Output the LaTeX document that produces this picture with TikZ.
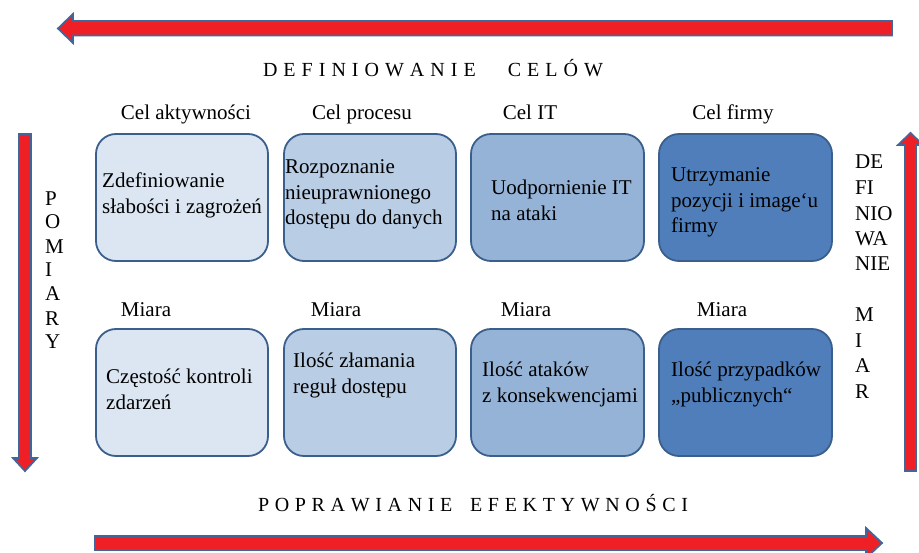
\documentclass[tikz,border=0pt]{standalone}
\usepackage{fontspec}
\setmainfont{Liberation Serif}
\definecolor{fillA}{HTML}{DCE6F2}
\definecolor{fillB}{HTML}{B9CDE5}
\definecolor{fillC}{HTML}{95B3D7}
\definecolor{fillD}{HTML}{4F7EBA}
\definecolor{boxedge}{HTML}{3A5F8C}
\definecolor{arrowred}{HTML}{EE2026}
\definecolor{arrowedge}{HTML}{41669B}
\begin{document}
\begin{tikzpicture}[x=1pt,y=-1pt,
  box/.style={draw=boxedge, line width=1.8pt, rounded corners=20pt,
              minimum width=172pt, minimum height=127pt, inner sep=0pt},
  % multi-line texts are placed by the baseline of their last line
  txt/.style={font=\fontsize{21}{25.5}\selectfont, align=left, inner sep=0pt, anchor=base west},
  lbl/.style={font=\fontsize{21}{25.5}\selectfont, inner sep=0pt, anchor=base},
  heading/.style={font=\fontsize{20}{24}\selectfont, inner sep=0pt, anchor=base},
  bigarrow/.style={draw=arrowedge, fill=arrowred, line width=1.8pt, line join=miter}
]
\useasboundingbox (0,0) rectangle (919,553);

% big arrows around the matrix
\draw[bigarrow] (58,28.5) -- (73,14) -- (73,21) -- (892,21) -- (892,35.5)
  -- (73,35.5) -- (73,43) -- cycle;
\draw[bigarrow] (19,134) -- (31,134) -- (31,458) -- (37,458) -- (25,471)
  -- (13,458) -- (19,458) -- cycle;
\draw[bigarrow] (905,471) -- (905,145) -- (898,145) -- (910.5,133) -- (923,145)
  -- (916,145) -- (916,471) -- cycle;
\draw[bigarrow] (95,536) -- (866,536) -- (866,528) -- (882,543) -- (866,558)
  -- (866,550) -- (95,550) -- cycle;

% headings
\node[heading] (goals) at (433,77) {\makebox[340pt][s]{D\hfill E\hfill F\hfill I\hfill N\hfill I\hfill O\hfill W\hfill A\hfill N\hfill I\hfill E\hspace{26pt}\hfill C\hfill E\hfill L\hfill Ó\hfill W}};
\node[heading] (improve) at (473,511) {\makebox[430pt][s]{P\hfill O\hfill P\hfill R\hfill A\hfill W\hfill I\hfill A\hfill N\hfill I\hfill E\hspace{12pt}\hfill E\hfill F\hfill E\hfill K\hfill T\hfill Y\hfill W\hfill N\hfill O\hfill Ś\hfill C\hfill I}};
\node[txt, font=\fontsize{21}{24}\selectfont] (measure) at (45,349) {P\\O\\M\\I\\A\\R\\Y};
\node[txt, font=\fontsize{21}{25.5}\selectfont] (defmeas) at (855,398.5) {DE\\FI\\NIO\\WA\\NIE\\\mbox{}\\M\\I\\A\\R};

% column labels
\node[lbl] (l1) at (186,120) {Cel aktywności};
\node[lbl] (l2) at (362,120) {Cel procesu};
\node[lbl] (l3) at (530,120) {Cel IT};
\node[lbl] (l4) at (733,120) {Cel firmy};
\node[lbl] (m1) at (146,317) {Miara};
\node[lbl] (m2) at (336,317) {Miara};
\node[lbl] (m3) at (526,317) {Miara};
\node[lbl] (m4) at (722,317) {Miara};

% goal boxes
\node[box, fill=fillA] (g1) at (182,197.5) {};
\node[box, fill=fillB] (g2) at (370,197.5) {};
\node[box, fill=fillC, minimum width=173pt] (g3) at (557.5,197.5) {};
\node[box, fill=fillD, minimum width=173pt] (g4) at (745.5,197.5) {};
% measure boxes
\node[box, fill=fillA] (k1) at (182,392.5) {};
\node[box, fill=fillB] (k2) at (370,392.5) {};
\node[box, fill=fillC, minimum width=173pt] (k3) at (557.5,392.5) {};
\node[box, fill=fillD, minimum width=173pt] (k4) at (745.5,392.5) {};

% box texts
\node[txt] (g1t) at (102,213.5) {Zdefiniowanie\\słabości i zagrożeń};
\node[txt] (g2t) at (285,225) {Rozpoznanie\\nieuprawnionego\\dostępu do danych};
\node[txt] (g3t) at (491,220.5) {Uodpornienie IT\\na ataki};
\node[txt] (g4t) at (671,233) {Utrzymanie\\pozycji i image‘u\\firmy};
\node[txt] (k1t) at (106,409.5) {Częstość kontroli\\zdarzeń};
\node[txt] (k2t) at (293,393.5) {Ilość złamania\\reguł dostępu};
\node[txt] (k3t) at (482,402.5) {Ilość ataków\\z konsekwencjami};
\node[txt] (k4t) at (671,402.5) {Ilość przypadków\\„publicznych“};
\end{tikzpicture}
\end{document}
